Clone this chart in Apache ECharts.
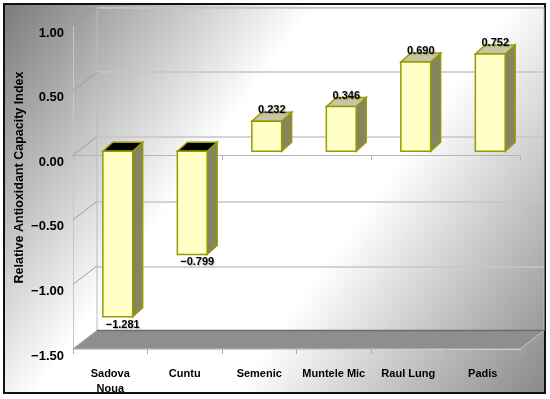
<!DOCTYPE html>
<html><head><meta charset="utf-8">
<script src="https://cdn.jsdelivr.net/npm/echarts@6/dist/echarts.min.js"></script>
<style>html,body{margin:0;padding:0;background:#fff}#c{width:550px;height:399px}</style>
</head><body><div id="c"></div>
<script>
const categories = ['Sadova\nNoua', 'Cuntu', 'Semenic', 'Muntele Mic', 'Raul Lung', 'Padis'];
const values = [-1.281, -0.799, 0.232, 0.346, 0.690, 0.752];
const yTicks = [-1.5, -1.0, -0.5, 0.0, 0.5, 1.0];
const yTitle = 'Relative Antioxidant Capacity Index';

const FONT = '"Liberation Sans", Arial, sans-serif';
const WALL_DEPTH = [24, -18.5];
const BAR_DEPTH = [10, -9];
const BAR_OFF = [7.5, -4];
const BAR_W = 0.4;
const fmt = v => v.toFixed(2).replace('-', '\u2212');
const fmt3 = v => v.toFixed(3).replace('-', '\u2212');

const chart = echarts.init(document.getElementById('c'), null, {renderer: 'canvas'});

function renderWalls(params, api) {
  const cs = params.coordSys;
  const v = api.value(1);
  const p = api.coord([0, v]);
  const [dx, dy] = WALL_DEPTH;
  const children = [{
    type: 'line',
    shape: {x1: cs.x, y1: p[1], x2: cs.x + dx, y2: p[1] + dy},
    style: {stroke: '#9c9c9c', lineWidth: 1}
  }];
  if (params.dataIndex === 0) {
    const yb = p[1];
    children.unshift({
      type: 'polygon',
      shape: {points: [[cs.x, yb], [cs.x + cs.width, yb], [cs.x + cs.width + dx, yb + dy], [cs.x + dx, yb + dy]]},
      style: {fill: '#8e8e8e', stroke: '#c4c4c4', lineWidth: 1}
    });
    children.push({
      type: 'line',
      shape: {x1: cs.x + dx, y1: yb + dy, x2: cs.x + cs.width + dx, y2: yb + dy},
      style: {stroke: '#6c6c6c', lineWidth: 1.5}
    });
  }
  return {type: 'group', children};
}

function renderBar(params, api) {
  const idx = api.value(0), v = api.value(1);
  const p = api.coord([idx, v]);
  const p0 = api.coord([idx, 0]);
  const band = api.size([1, 0])[0];
  const w = band * BAR_W;
  const cx = p[0] + BAR_OFF[0];
  const x0 = cx - w / 2, x1 = cx + w / 2;
  const yv = p[1] + BAR_OFF[1], yz = p0[1] + BAR_OFF[1];
  const yT = Math.min(yv, yz), yB = Math.max(yv, yz);
  const [dx, dy] = BAR_DEPTH;
  const pos = v >= 0;
  const edge = '#9a9a00';
  const lx = (x0 + x1 + dx) / 2;
  return {
    type: 'group',
    children: [
      {type: 'polygon', shape: {points: [[x1, yT], [x1 + dx, yT + dy], [x1 + dx, yB + dy], [x1, yB]]},
       style: {fill: '#85855f', stroke: edge, lineWidth: 1.5}},
      {type: 'polygon', shape: {points: [[x0, yT], [x0 + dx, yT + dy], [x1 + dx, yT + dy], [x1, yT]]},
       style: {fill: pos ? '#c6c6a4' : '#000000', stroke: edge, lineWidth: 1.5}},
      {type: 'rect', shape: {x: x0, y: yT, width: w, height: yB - yT},
       style: {fill: '#ffffc8', stroke: edge, lineWidth: 1.5}},
      {type: 'text', x: lx, y: pos ? yT + dy - 2 : yB + 8,
       style: {text: fmt3(v), fill: '#000', fontSize: 11, fontWeight: 'bold', fontFamily: FONT,
               align: 'center', verticalAlign: 'middle',
               textShadowColor: 'rgba(0,0,0,0.25)', textShadowBlur: 1, textShadowOffsetX: 1, textShadowOffsetY: 1}}
    ]
  };
}

const yMin = yTicks[0], yMax = yTicks[yTicks.length - 1], yStep = yTicks[1] - yTicks[0];

chart.setOption({
  backgroundColor: '#ffffff',
  animation: false,
  graphic: [
    {type: 'rect', z: -100, shape: {x: 4, y: 4, width: 541, height: 389},
     style: {fill: new echarts.graphic.LinearGradient(0, 0, 1, 1, [
       {offset: 0, color: '#7a7a7a'}, {offset: 0.38, color: '#ffffff'},
       {offset: 0.62, color: '#ffffff'}, {offset: 1, color: '#888888'}]),
       stroke: '#111', lineWidth: 2}},
    {type: 'text', z: 10, x: 20, y: 177.5, rotation: Math.PI / 2,
     style: {text: yTitle, fill: '#000', fontSize: 12.5, fontWeight: 'bold', fontFamily: FONT,
             align: 'center', verticalAlign: 'middle'}}
  ],
  grid: [
    {left: 73, right: 30, top: 26, bottom: 50, show: false},
    {left: 97, right: 6, top: 7.5, bottom: 68, show: true, borderColor: '#bcbcbc', borderWidth: 1, backgroundColor: 'transparent'}
  ],
  xAxis: [
    {type: 'category', gridIndex: 0, data: categories, position: 'bottom',
     axisLine: {onZero: false, lineStyle: {color: '#d4d4d4', width: 1}},
     axisTick: {show: true, length: 5, lineStyle: {color: '#a8a8a8'}},
     axisLabel: {interval: 0, margin: 17, color: '#000', fontSize: 11, fontWeight: 'bold', fontFamily: FONT, lineHeight: 15},
     splitLine: {show: false}},
    {type: 'category', gridIndex: 0, data: categories, position: 'top',
     axisLine: {onZero: true, lineStyle: {color: '#b4b4b4', width: 1}},
     axisTick: {show: true, inside: true, length: 5, lineStyle: {color: '#b4b4b4'}},
     axisLabel: {show: false}, splitLine: {show: false}},
    {type: 'category', gridIndex: 1, data: categories, show: false}
  ],
  yAxis: [
    {type: 'value', gridIndex: 0, min: yMin, max: yMax, interval: yStep,
     axisLine: {show: true, lineStyle: {color: '#c8c8c8', width: 1}},
     axisTick: {show: false},
     axisLabel: {formatter: fmt, margin: 9, verticalAlign: 'top', lineHeight: 14, color: '#000', fontSize: 13, fontWeight: 'bold', fontFamily: FONT},
     splitLine: {show: false}},
    {type: 'value', gridIndex: 1, min: yMin, max: yMax, interval: yStep,
     axisLine: {show: false}, axisTick: {show: false}, axisLabel: {show: false},
     splitLine: {show: true, lineStyle: {color: '#c6c6c6', width: 1.5}}}
  ],
  series: [
    {type: 'custom', xAxisIndex: 0, yAxisIndex: 0, z: 1, silent: true,
     data: yTicks.map(v => [0, v]), encode: {x: 0, y: 1}, renderItem: renderWalls},
    {type: 'custom', xAxisIndex: 0, yAxisIndex: 0, z: 3,
     data: values.map((v, i) => [i, v]), encode: {x: 0, y: 1}, renderItem: renderBar}
  ]
});
</script></body></html>
